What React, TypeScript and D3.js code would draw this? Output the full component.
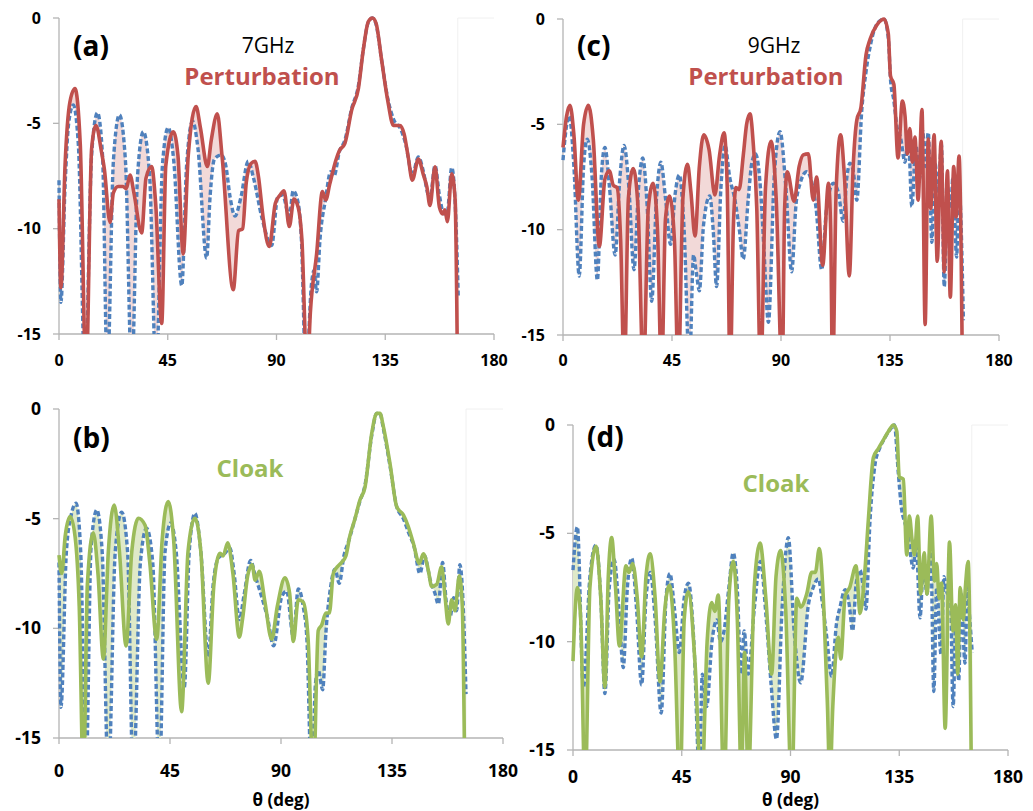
import React from "react";
import * as d3 from "d3";

type Pt = [number, number];

const thetaTicks = [0, 45, 90, 135, 180];
const dbTicks = [0, -5, -10, -15];

// (a) 7 GHz perturbation vs reference
const aRed: Pt[] = [[0,-8.6],[0.8,-12.8],[2.5,-7],[4.5,-4.0],[6.6,-3.35],[8.8,-6],[11.2,-17],[13.5,-6.2],[15.3,-5.1],[17.5,-6.3],[18.8,-7.2],[21.1,-9.7],[22.5,-8.3],[24.5,-8.0],[26.5,-8.0],[27.8,-8.1],[29.4,-7.45],[31,-8.3],[34.2,-10.2],[36,-7.6],[38.3,-7.05],[40,-8.8],[42.5,-14.5],[44.2,-7],[47.3,-5.4],[49.2,-6.5],[51.4,-11.2],[53.5,-6.5],[56.7,-4.2],[58.5,-5.2],[61.4,-7.05],[63,-5.8],[65.5,-4.55],[67.5,-6.6],[72.1,-12.9],[74.3,-10.1],[76,-10],[77.5,-7.8],[79.5,-6.9],[81.1,-6.8],[82.5,-7.5],[84.5,-9.5],[87,-10.85],[89.5,-8.8],[91.5,-8.4],[93.1,-8.2],[95.3,-9.9],[97.2,-8.6],[99,-9.0],[100.5,-10.5],[102.7,-17],[104,-14],[106.6,-11.2],[109,-8.24],[110.4,-8.64],[112,-7.9],[114.6,-6.74],[116,-6.3],[118.3,-5.95],[121.1,-4.37],[123.9,-3.34],[125.9,-1.52],[128,-0.17],[129.7,0],[131.2,-0.25],[133.5,-2.0],[136,-3.9],[138.4,-5.1],[141.1,-5.1],[142.8,-5.5],[144.5,-6.6],[146.2,-7.7],[148.7,-6.7],[150.8,-7.45],[152.2,-8.0],[153.5,-8.9],[155.6,-7.06],[157.4,-8.97],[158.8,-9.3],[159.7,-9.1],[160.7,-9.67],[162.5,-7.4],[163.9,-8.6],[165,-18]];
const aBlue: Pt[] = [[0,-7.7],[0.8,-13.5],[2.5,-8],[4,-5],[5.9,-4.13],[8,-6],[10.8,-17],[13.5,-6.5],[15.9,-4.5],[18,-6.5],[20,-17],[22.5,-6.8],[25,-4.6],[27.5,-6.8],[30.1,-17],[32.5,-7.5],[34.9,-5.4],[37.5,-7.5],[40.2,-17],[42.8,-7],[45.2,-5.2],[47.5,-6.8],[50.8,-12.7],[52.8,-7.0],[55.3,-4.9],[57.5,-6.2],[61.1,-11.4],[62.5,-8.5],[64.3,-6.7],[67.1,-6.5],[69,-7.0],[70.8,-8.5],[72.8,-9.4],[75.3,-8.5],[78.3,-6.8],[80.5,-7.6],[84,-9.5],[88,-10.8],[90.5,-8.5],[92.5,-8.4],[95.3,-9.4],[96.9,-8.2],[99,-8.8],[100.3,-10.5],[102.2,-17],[104.5,-12.6],[105.5,-12.0],[106.6,-13],[108,-10.5],[110.3,-8.6],[112.4,-7.3],[113.8,-7.5],[116,-6.35],[118.3,-5.8],[121.1,-4.3],[123.9,-3.2],[125.9,-1.5],[128,-0.2],[129.7,0],[131.2,-0.3],[133.5,-2.0],[136,-3.8],[138.4,-4.8],[141.5,-5.3],[143.5,-6.0],[146.2,-7.45],[148.7,-6.6],[150.8,-7.3],[152.5,-8.3],[153.5,-8.6],[155.6,-7.0],[157.4,-8.4],[159.3,-9.3],[160.7,-9.2],[162.5,-7.1],[163.9,-8.7],[165.2,-13.2]];

// (b) 7 GHz cloak vs reference
const bGreen: Pt[] = [[0,-6.66],[1.1,-7.5],[2.5,-5.8],[4.5,-4.9],[6.5,-5.8],[8.2,-9],[9.9,-17],[11.5,-8],[13.9,-5.64],[15.8,-7.5],[18,-11.4],[20,-6.5],[22.4,-4.38],[24.5,-6.5],[27.2,-10.8],[29.5,-6.5],[32.2,-4.98],[34.9,-5.3],[36.8,-7],[39.6,-10.5],[41.8,-6],[44.3,-4.22],[46.5,-6],[49.7,-13.8],[52.3,-6.5],[55.1,-4.98],[57.5,-6.5],[60.5,-12.5],[62.8,-8],[65.3,-6.58],[66.5,-6.7],[68.4,-6.1],[70.5,-7.5],[73.1,-10.4],[74.5,-9.5],[76.5,-7.6],[78.3,-7.1],[79.5,-7.8],[81.2,-7.4],[83.5,-8.8],[86.2,-10.5],[88.5,-9],[91.6,-7.7],[93.5,-8.4],[95,-10.6],[97,-8.7],[99,-8.8],[101,-10.5],[103.1,-17],[105.1,-10.1],[106.5,-9.85],[108.2,-9.3],[109.6,-9.3],[111.2,-7.5],[112.8,-7.2],[114.5,-7.0],[116.3,-6.7],[117.9,-5.8],[120,-5.0],[122,-4.15],[124,-3.6],[126.8,-1.1],[128.8,-0.2],[130.1,-0.2],[131.5,-0.8],[134.2,-2.5],[136.9,-4.45],[139.6,-4.83],[141.6,-5.36],[143.6,-6.1],[146.1,-7.04],[147.7,-6.6],[149.7,-7.34],[151.1,-8.1],[153.1,-8.0],[155.1,-7.2],[156.5,-8.55],[157.8,-9.8],[159.2,-8.7],[160.5,-9.2],[162.3,-7.6],[163.5,-9.0],[164.6,-18]];
const bBlue: Pt[] = [[0,-7.0],[0.8,-13.6],[3,-6.5],[5,-4.8],[6.9,-4.3],[8.8,-6.5],[10.9,-17],[13,-6.3],[15.3,-4.6],[17.5,-6.5],[20,-17],[22.8,-6.5],[25.4,-4.7],[27.8,-6.5],[30.1,-17],[33,-7],[35.5,-5.44],[38,-7],[40.7,-17],[43,-6.5],[45.3,-5.2],[47.5,-6.5],[50.8,-12.7],[52.8,-6.5],[55.1,-4.76],[57.5,-6.5],[60.5,-11.3],[62.5,-8],[64.6,-6.8],[67,-6.6],[69.3,-6.35],[71,-7.5],[73.1,-9.6],[75,-8.5],[77.7,-6.9],[79.5,-7.6],[82,-8.5],[84.5,-9.5],[87,-10.8],[90.3,-8.55],[92.3,-8.3],[95,-10.4],[97,-8.2],[99,-9.0],[100.5,-10.5],[102.4,-17],[104,-12.5],[105.1,-11.9],[106.9,-12.8],[108.2,-10.2],[110,-8.2],[111.9,-7.3],[113.6,-7.95],[115.5,-6.7],[117.5,-6.0],[120,-5.0],[122,-4.2],[124,-3.5],[126.8,-1.2],[128.8,-0.2],[130.1,-0.2],[131.5,-0.9],[134.2,-2.6],[136.9,-4.45],[139.6,-5.0],[141.6,-5.6],[144,-6.3],[146.3,-7.5],[148.2,-6.7],[150.5,-7.8],[152.4,-8.4],[153.8,-8.9],[155.5,-7.0],[157,-8.8],[158.5,-9.5],[160,-8.6],[161.2,-9.2],[162.5,-7.1],[163.8,-8.8],[165,-13]];

// (c) 9 GHz perturbation vs reference
const cRed: Pt[] = [[0,-6.1],[1.5,-4.6],[2.9,-4.1],[4.5,-5.5],[6.3,-8.6],[8.5,-5],[10.5,-4.1],[12.5,-5.7],[15,-10.8],[17.3,-7.6],[19.1,-7.2],[20.8,-7.9],[22.3,-8.0],[23.8,-10.5],[25.3,-17],[27,-8.5],[29,-7.1],[31,-9],[33.2,-17],[35.2,-9],[37.2,-7.8],[39,-10],[40.7,-17],[42.3,-9.5],[44,-8.4],[46,-10.5],[47.6,-17],[49.5,-8.5],[51.4,-6.9],[52.8,-8.2],[54.5,-10.3],[56.3,-7],[58.1,-5.5],[60.3,-6.2],[62.7,-8.35],[64.6,-6.5],[66.5,-5.4],[67.8,-8],[69,-17],[70.3,-10],[71.4,-8.0],[72.7,-8.1],[74.4,-6.5],[75.8,-5],[77.2,-4.5],[78.6,-6.0],[80,-9],[81.6,-17],[83.6,-8],[85.9,-5.8],[88,-8.5],[90.5,-17],[91.5,-9],[92.6,-7.25],[95.4,-8.65],[97.5,-7.0],[99.2,-6.45],[101.3,-6.4],[103.3,-8.6],[104.7,-7.5],[107.2,-11.7],[109.6,-7.8],[110.5,-10],[111.3,-17],[112.8,-8],[114.6,-5.5],[116.2,-7.5],[118.2,-12.2],[119.8,-7],[121.3,-4.8],[123,-4.2],[125.1,-1.7],[126.8,-0.95],[129.5,-0.3],[131.5,-0.05],[132.5,0],[134.3,-0.7],[135.2,-2.7],[136.6,-3.1],[138.3,-6.6],[140.1,-3.9],[141.2,-4.6],[142.2,-6.4],[143.2,-5.2],[144.2,-6.8],[145.3,-5.6],[146.6,-8.6],[148.2,-4.3],[149.5,-14.5],[150.8,-5.7],[151.8,-9.0],[153.2,-5.5],[154.5,-11.5],[156.1,-5.8],[157.4,-12.0],[158.7,-7.2],[159.9,-13.2],[161.3,-7.0],[162.3,-9.4],[163.5,-6.5],[165,-18]];
const cBlue: Pt[] = [[0,-6.7],[1.3,-5.2],[2.6,-4.6],[4.5,-7],[6.7,-12.2],[8.5,-7],[10,-5.7],[12,-7.5],[14.2,-12.4],[15.8,-7.5],[17.3,-6.1],[19.2,-8],[21.5,-11.2],[23.5,-7.5],[25.2,-6.0],[27.2,-8],[29.3,-11.9],[31.2,-8],[32.9,-6.6],[34.8,-9],[36.6,-13.4],[38.6,-8.5],[40.4,-6.8],[42.3,-8.5],[44.4,-10.7],[46.3,-8.3],[48,-7.4],[50,-10],[52.2,-16.5],[53.9,-11.2],[55,-12],[56.3,-12.9],[58,-9.8],[60.6,-8.4],[62,-10],[63.4,-12.7],[65.2,-8],[66.9,-6.0],[68.8,-7.5],[71,-8.6],[72.8,-10],[74.4,-11.4],[76.5,-8.5],[78,-6.8],[79.5,-6.4],[81.5,-8],[83,-11],[84.8,-14.4],[87.2,-7.5],[89.6,-5.35],[92,-8],[94.4,-12.0],[96.2,-8.8],[97.9,-7.8],[100.6,-7.25],[102.8,-7.8],[104.5,-9],[106.8,-11.9],[108.8,-9],[111.6,-7.8],[113.6,-8.2],[115.7,-9.6],[117.2,-7.5],[118.5,-6.85],[119.8,-7.2],[121.3,-8.6],[123.3,-4.4],[125.1,-2.5],[127,-1.2],[129.8,-0.2],[132.5,0],[134.3,-0.9],[135.3,-3.0],[136.5,-3.8],[138.0,-5.2],[139.3,-5.6],[141.2,-6.8],[142.6,-5.6],[144.0,-8.9],[145.7,-6.0],[147.2,-7.6],[148.5,-5.3],[149.5,-7.0],[150.8,-5.4],[152.3,-10.6],[153.5,-6.8],[155.0,-8.2],[156.2,-5.9],[157.4,-12.7],[158.8,-8.0],[160.0,-9.0],[161.0,-7.5],[162.5,-11.3],[163.5,-8.0],[165.3,-14.3]];

// (d) 9 GHz cloak vs reference
const dGreen: Pt[] = [[0,-10.9],[1.8,-7.5],[3.2,-9],[5,-17],[7,-7.5],[9.5,-5.6],[11.5,-8],[13.2,-12.1],[14.6,-7],[16,-5.2],[17.6,-7.5],[19.2,-10.2],[21.9,-6.5],[23.2,-6.8],[24.7,-6.4],[26.6,-8],[28.4,-10.7],[30.2,-7],[31.9,-5.95],[34,-8],[36,-11.85],[38,-8.5],[39.9,-7.4],[42,-10],[44.3,-17],[46,-9],[47.7,-7.7],[50.5,-11],[53.2,-17],[55.5,-10],[57.4,-8.2],[58.7,-8.6],[60.1,-7.85],[62.5,-17],[64.5,-8],[66.3,-6.3],[68,-9],[69.7,-16.5],[71,-10.5],[72.5,-16.5],[75,-7.5],[77.4,-5.45],[79.8,-8],[82.2,-11.5],[84,-7],[85.9,-5.8],[88,-8.5],[90.5,-17],[92.6,-8.0],[94.2,-8.4],[96.7,-7.8],[98.8,-6.8],[100.3,-6.8],[101.9,-5.7],[103.8,-8.5],[105.3,-13],[106.3,-16.5],[107.5,-13],[109.8,-9.8],[110.8,-10.8],[112.6,-7.9],[114.5,-7.5],[117.1,-6.5],[118.8,-8.7],[120.8,-6.7],[122.2,-4.4],[124.3,-1.5],[126.3,-1.1],[128.4,-0.7],[130.5,-0.3],[132.6,0],[134,-0.3],[135,-2.4],[136.7,-2.5],[138.1,-6.0],[139.2,-4.2],[140.3,-5.3],[141.3,-6.0],[142.6,-4.2],[143.9,-7.8],[145.3,-5.9],[146.5,-7.8],[148.2,-4.2],[149.6,-7.2],[150.5,-6.4],[151.5,-8.0],[152.5,-7.3],[154.0,-14.0],[155.8,-5.4],[157.2,-9.5],[158.3,-8.3],[159.2,-11.5],[160.2,-7.5],[161.5,-9.0],[162.3,-7.6],[163.5,-6.3],[165,-18]];
const dBlue: Pt[] = [[0,-6.7],[1.8,-4.7],[4.3,-12.1],[7,-7],[9.5,-5.55],[11.5,-8],[13.2,-12.4],[15,-7.5],[17,-6.2],[19,-8.5],[20.8,-11.2],[22.5,-7.5],[24.3,-6.15],[26.3,-8.5],[28.4,-12.0],[30.2,-8],[32,-6.8],[34,-9],[36.5,-13.3],[38.5,-8],[40.1,-6.85],[42,-8.5],[44,-10.5],[46,-8],[47.8,-7.3],[50,-10],[52.3,-16],[53.5,-11.5],[55.3,-13.0],[57.5,-10],[59.5,-9.0],[61,-10],[62.5,-9.5],[64.5,-7.5],[66.3,-5.9],[68,-7.6],[69.5,-11.5],[70.8,-9.5],[72.5,-11.5],[75,-8.5],[77.5,-6.3],[80,-9],[82,-12],[84.2,-14.5],[86.5,-8.5],[89.1,-5.2],[91.5,-9.5],[94.2,-11.9],[97.4,-8.3],[99.4,-7.5],[101.5,-7.1],[103.3,-8.3],[105,-9.8],[107,-11.6],[109,-9.2],[110.5,-8.4],[112.6,-7.6],[114.3,-8.3],[115.7,-9.5],[117.2,-7.3],[118.8,-6.7],[120,-7.4],[121.2,-8.5],[122.9,-4.4],[125,-1.8],[127,-1.05],[129,-0.6],[132,-0.1],[133,0],[134.6,-2.2],[136,-3.9],[137.3,-4.5],[138.5,-5.0],[140.8,-6.6],[142.0,-5.4],[143.6,-8.9],[145.0,-6.5],[146.5,-7.8],[148.0,-5.5],[149.3,-12.3],[150.5,-7.5],[152.3,-10.6],[153.5,-7.0],[155.0,-7.8],[155.9,-6.5],[157.3,-13.0],[158.5,-8.5],[159.6,-11.8],[160.6,-7.8],[162.2,-11.0],[163.2,-7.5],[164.2,-9.0],[165.2,-10.5]];

const FONT = "'Open Sans', 'DejaVu Sans', sans-serif";
const RED = "#c0504d";
const BLUE = "#4f81bd";
const GREEN = "#9bbb59";
const AXIS = "#b4b4b4";

interface PanelCfg {
  id: string;
  x0: number; x1: number; y0: number; y1: number;
  solid: Pt[]; ref: Pt[];
  color: string; fill: string;
  tickFont: number; xLabelBase: number;
  label: string; labelX: number; labelY: number;
  freq?: string; freqX?: number; freqY?: number;
  name: string; nameX: number; nameY: number;
  xTitle?: boolean; xTitleY?: number;
}

const panels: PanelCfg[] = [
  { id: "a", x0: 59, x1: 494, y0: 18, y1: 334, solid: aRed, ref: aBlue, color: RED, fill: "#f2d9d8",
    tickFont: 16, xLabelBase: 366, label: "(a)", labelX: 73, labelY: 56,
    freq: "7GHz", freqX: 268, freqY: 53, name: "Perturbation", nameX: 262, nameY: 85 },
  { id: "b", x0: 59, x1: 503, y0: 409, y1: 738, solid: bGreen, ref: bBlue, color: GREEN, fill: "#dfe9c8",
    tickFont: 17.5, xLabelBase: 777, label: "(b)", labelX: 73, labelY: 448,
    name: "Cloak", nameX: 250, nameY: 477, xTitle: true, xTitleY: 806 },
  { id: "c", x0: 563, x1: 999, y0: 19, y1: 335, solid: cRed, ref: cBlue, color: RED, fill: "#f2d9d8",
    tickFont: 16, xLabelBase: 366, label: "(c)", labelX: 577, labelY: 56,
    freq: "9GHz", freqX: 774, freqY: 53, name: "Perturbation", nameX: 766, nameY: 85 },
  { id: "d", x0: 573, x1: 1008, y0: 425, y1: 750, solid: dGreen, ref: dBlue, color: GREEN, fill: "#dfe9c8",
    tickFont: 17.5, xLabelBase: 783, label: "(d)", labelX: 587, labelY: 447,
    name: "Cloak", nameX: 776, nameY: 492, xTitle: true, xTitleY: 806 },
];

function Panel({ p }: { p: PanelCfg }) {
  const x = d3.scaleLinear().domain([0, 180]).range([p.x0, p.x1]);
  const y = d3.scaleLinear().domain([-15, 0]).range([p.y1, p.y0]);
  const line = d3.line<Pt>().x((d) => x(d[0])).y((d) => y(d[1])).curve(d3.curveMonotoneX);
  const solidPath = line(p.solid) || "";
  const refPath = line(p.ref) || "";
  const revPath = (line([...p.ref].reverse()) || "").replace(/^M/, "L");
  const fillPath = solidPath + revPath + "Z";
  const clipId = `clip-${p.id}`;
  return (
    <g>
      <defs>
        <clipPath id={clipId}>
          <rect x={p.x0 - 4} y={p.y0 - 8} width={p.x1 - p.x0 + 8} height={p.y1 - p.y0 + 8} />
        </clipPath>
      </defs>
      <line x1={x(165)} x2={x(165)} y1={p.y0} y2={p.y1} stroke="#f0f0f0" strokeWidth={1} />
      <line x1={x(165)} x2={x(180)} y1={p.y0} y2={p.y0} stroke="#f0f0f0" strokeWidth={1} />
      <line x1={p.x0} x2={p.x0} y1={p.y0} y2={p.y1} stroke={AXIS} strokeWidth={1.3} />
      <line x1={p.x0} x2={p.x1} y1={p.y1} y2={p.y1} stroke={AXIS} strokeWidth={1.3} />
      {dbTicks.map((t) => (
        <g key={`y${t}`}>
          <line x1={p.x0 - 6} x2={p.x0} y1={y(t)} y2={y(t)} stroke={AXIS} strokeWidth={1.3} />
          <text x={p.x0 - 18} y={y(t)} dy="0.35em" textAnchor="end" fontFamily={FONT}
            fontWeight={700} fontSize={p.tickFont} fill="#000">{t}</text>
        </g>
      ))}
      {thetaTicks.map((t) => (
        <g key={`x${t}`}>
          <line x1={x(t)} x2={x(t)} y1={p.y1} y2={p.y1 + 6} stroke={AXIS} strokeWidth={1.3} />
          <text x={x(t)} y={p.xLabelBase} textAnchor="middle" fontFamily={FONT}
            fontWeight={700} fontSize={p.tickFont} fill="#000">{t}</text>
        </g>
      ))}
      <g clipPath={`url(#${clipId})`}>
        <path d={fillPath} fill={p.fill} fillRule="evenodd" stroke="none" />
        <path d={refPath} fill="none" stroke={BLUE} strokeWidth={3.4} strokeDasharray="5 2.6" />
        <path d={solidPath} fill="none" stroke={p.color} strokeWidth={3.6} strokeLinejoin="round" />
      </g>
      <text x={p.labelX} y={p.labelY} fontFamily={FONT} fontWeight={700} fontSize={28} fill="#000">{p.label}</text>
      {p.freq && (
        <text x={p.freqX} y={p.freqY} textAnchor="middle" fontFamily={FONT} fontSize={21} fill="#000">{p.freq}</text>
      )}
      <text x={p.nameX} y={p.nameY} textAnchor="middle" fontFamily={FONT} fontWeight={700} fontSize={24} fill={p.color}>{p.name}</text>
      {p.xTitle && (
        <text x={x(90)} y={p.xTitleY} textAnchor="middle" fontFamily={FONT} fontWeight={700} fontSize={17} fill="#000">θ (deg)</text>
      )}
    </g>
  );
}

export default function App() {
  return (
    <svg width={1033} height={811} style={{ position: "absolute", left: 0, top: 0, background: "#fff" }}>
      <rect x={0} y={0} width={1033} height={811} fill="#fff" />
      {panels.map((p) => (
        <Panel key={p.id} p={p} />
      ))}
    </svg>
  );
}
